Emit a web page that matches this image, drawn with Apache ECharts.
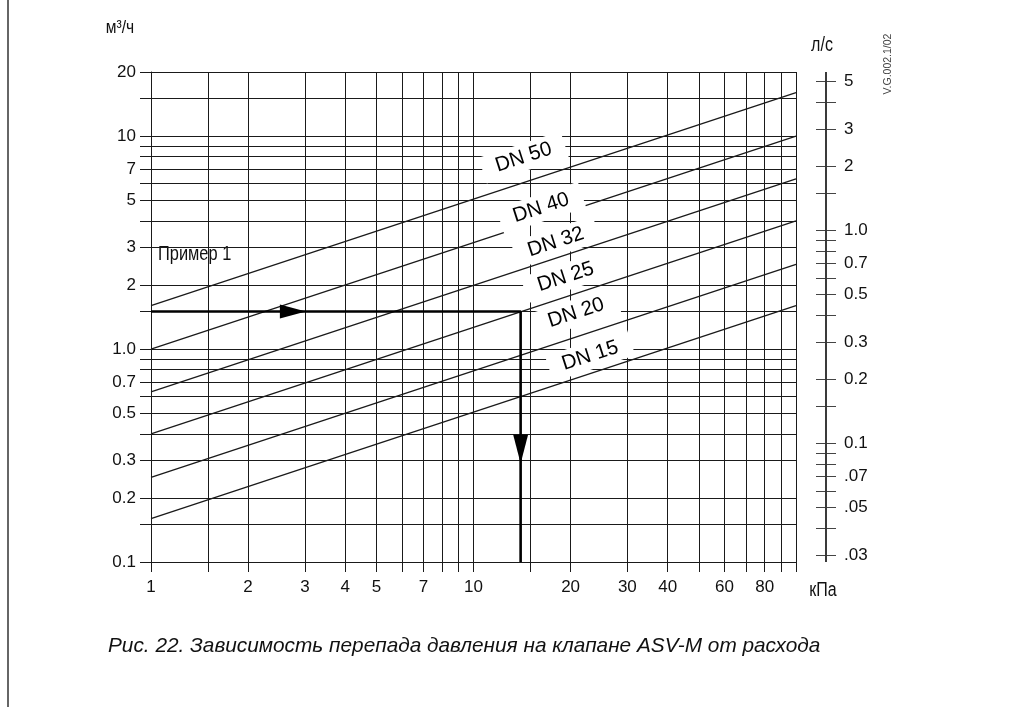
<!DOCTYPE html>
<html><head><meta charset="utf-8">
<script src="https://cdn.jsdelivr.net/npm/echarts@6.0.0/dist/echarts.min.js"></script>
<style>html,body{margin:0;padding:0;background:#fff}#c{width:1027px;height:707px}</style>
</head><body><div id="c"></div>
<script>
// Axis ticks and labels
const pressureTicks = [1,1.5,2,3,4,5,6,7,8,9,10,15,20,30,40,50,60,70,80,90,100];
const pressureLabels = [1,2,3,4,5,7,10,20,30,40,60,80];
const flowTicks = [0.1,0.15,0.2,0.3,0.4,0.5,0.6,0.7,0.8,0.9,1,1.5,2,3,4,5,6,7,8,9,10,15,20];
const flowLabels = [0.1,0.2,0.3,0.5,0.7,1,2,3,5,7,10,20];
const lsTicks = [0.03,0.04,0.05,0.06,0.07,0.08,0.09,0.1,0.15,0.2,0.3,0.4,0.5,0.6,0.7,0.8,0.9,1,1.5,2,3,4,5];
const lsLabels = [0.03,0.05,0.07,0.1,0.2,0.3,0.5,0.7,1,2,3,5];
// Valve curves (m3/h at 1 kPa and at 100 kPa)
const valveNames = ['DN 15','DN 20','DN 25','DN 32','DN 40','DN 50'];
const flowAt1kPa = [0.16,0.25,0.4,0.63,1.0,1.6];
const flowAt100kPa = [1.6,2.5,4.0,6.3,10,16];
const labelPressure = [23,20.8,19.3,18,16.2,14.3];
const labelFlow = [0.93,1.48,2.18,3.18,4.6,7.95];
// Example 1
const examplePath = [[1,1.5],[14,1.5],[14,0.1]];
const exampleArrowRight = [3,1.5];
const exampleArrowDown = [14,0.29];
// l/s scale: range and spine position on its helper axis
const flowMin = 0.1, flowMax = 20, m3hPerLs = 3.6;
const lsSpine = [0];

const INK = '#1a1a1a';
const SANS = '"Liberation Sans",Arial,sans-serif';

function fmtFlow(v){ v = Number(v.toPrecision(6)); return v === 1 ? '1.0' : String(v); }
function fmtLs(v){ v = Number(v.toPrecision(6)); if (v === 1) return '1.0'; if (v < 0.1) return String(v).replace('0.', '.'); return String(v); }

const chart = echarts.init(document.getElementById('c'), null, {renderer:'canvas'});
const lsMin = flowMin / m3hPerLs, lsMax = flowMax / m3hPerLs;

const series = [];
valveNames.forEach((n, i) => {
  series.push({
    type: 'line', name: n, xAxisIndex: 0, yAxisIndex: 0,
    data: [[1, flowAt1kPa[i]], [100, flowAt100kPa[i]]],
    symbol: 'none', lineStyle: {color: INK, width: 1.3}, silent: true, z: 3
  });
});
series.push({
  type: 'line', name: 'example', data: examplePath, symbol: 'none',
  lineStyle: {color: '#000', width: 2.6}, silent: true, z: 4
});
series.push({
  type: 'scatter', name: 'arrows', z: 5, silent: true,
  data: [
    {value: exampleArrowRight, symbol: 'triangle', symbolSize: [14, 26], symbolRotate: -90, symbolOffset: [-12, 0]},
    {value: exampleArrowDown, symbol: 'triangle', symbolSize: [15, 29], symbolRotate: 180, symbolOffset: [0, -14.5]}
  ],
  itemStyle: {color: '#000', opacity: 1}
});
series.push({
  type: 'scatter', name: 'labels', z: 6, silent: true,
  data: valveNames.map((n, i) => ({value: [labelPressure[i], labelFlow[i]], name: n})),
  symbolSize: 1, itemStyle: {color: 'transparent', opacity: 1},
  label: {
    show: true, position: 'inside', formatter: p => p.name, rotate: 18,
    fontFamily: SANS, fontSize: 20.5, color: '#000', opacity: 1,
    backgroundColor: '#fff', padding: [6, 14, 0, 14]
  }
});
// spine of the l/s scale
series.push({
  type: 'line', name: 'lsSpine', xAxisIndex: 1, yAxisIndex: 1,
  data: [[lsSpine[0], lsMin], [lsSpine[0], lsMax]], symbol: 'none', clip: false,
  lineStyle: {color: '#333', width: 1.6}, silent: true, z: 3
});

const tickStyle = {color: INK, width: 1};
const lsTickStyle = {color: '#444', width: 1};
chart.setOption({
  animation: false,
  backgroundColor: '#fff',
  grid: [
    {left: 151, right: 231, top: 72, bottom: 145, outerBoundsMode: 'none', containLabel: false},
    {left: 816, width: 20, top: 72, bottom: 145, outerBoundsMode: 'none', containLabel: false}
  ],
  xAxis: [{
    type: 'log', logBase: 10, min: 1, max: 100,
    axisLine: {show: true, onZero: false, lineStyle: {color: INK, width: 1}},
    axisTick: {show: true, length: 10, customValues: pressureTicks, lineStyle: tickStyle},
    axisLabel: {show: true, customValues: pressureLabels, margin: 17, fontFamily: SANS, fontSize: 17, color: '#111',
      formatter: v => String(Number(v.toPrecision(6)))},
    splitLine: {show: true, lineStyle: {color: INK, width: 1}},
    minorTick: {show: false}, minorSplitLine: {show: false}
  }, {
    gridIndex: 1, type: 'value', min: -1, max: 1,
    axisLine: {show: false}, axisLabel: {show: false},
    axisTick: {show: false, customValues: lsSpine},
    splitLine: {show: true, lineStyle: {color: '#333', width: 1.6}}
  }],
  yAxis: [{
    type: 'log', logBase: 10, min: flowMin, max: flowMax, position: 'left',
    axisLine: {show: true, onZero: false, lineStyle: {color: INK, width: 1}},
    axisTick: {show: true, length: 11, customValues: flowTicks, lineStyle: tickStyle},
    axisLabel: {show: true, customValues: flowLabels, margin: 15, fontFamily: SANS, fontSize: 17, color: '#111', formatter: fmtFlow},
    splitLine: {show: true, lineStyle: {color: INK, width: 1}}
  }, {
    gridIndex: 1, type: 'log', logBase: 10, min: lsMin, max: lsMax, position: 'left', offset: -10,
    axisLine: {show: false},
    axisTick: {show: true, inside: true, length: 10, customValues: lsTicks, lineStyle: lsTickStyle},
    axisLabel: {show: false}, splitLine: {show: false}
  }, {
    gridIndex: 1, type: 'log', logBase: 10, min: lsMin, max: lsMax, position: 'left', offset: -10,
    axisLine: {show: false},
    axisTick: {show: true, inside: false, length: 10, customValues: lsTicks, lineStyle: lsTickStyle},
    axisLabel: {show: false}, splitLine: {show: false}
  }, {
    gridIndex: 1, type: 'log', logBase: 10, min: lsMin, max: lsMax, position: 'right', offset: -10,
    axisLine: {show: false}, axisTick: {show: false},
    axisLabel: {show: true, customValues: lsLabels, margin: 18, fontFamily: SANS, fontSize: 17, color: '#111', formatter: fmtLs},
    splitLine: {show: false}
  }],
  series: series,
  graphic: [
    {type: 'line', shape: {x1: 8, y1: 0, x2: 8, y2: 707}, style: {stroke: '#333', lineWidth: 1.5}, silent: true},
    {type: 'text', x: 120, y: 28, scaleX: 0.82, style: {text: 'м³/ч', font: '19px ' + SANS, fill: '#111', align: 'center', verticalAlign: 'middle'}},
    {type: 'text', x: 822, y: 45, scaleX: 0.8, style: {text: 'л/с', font: '20px ' + SANS, fill: '#111', align: 'center', verticalAlign: 'middle'}},
    {type: 'text', x: 823, y: 590, scaleX: 0.8, style: {text: 'кПа', font: '20px ' + SANS, fill: '#111', align: 'center', verticalAlign: 'middle'}},
    {type: 'text', x: 888, y: 64, rotation: Math.PI/2, style: {text: 'V.G.002.1/02', font: '10.5px ' + SANS, fill: '#444', align: 'center', verticalAlign: 'middle'}},
    {type: 'text', x: 158, y: 254, scaleX: 0.8, style: {text: 'Пример 1', font: '20.5px ' + SANS, fill: '#111', align: 'left', verticalAlign: 'middle'}},
    {type: 'text', x: 108, y: 646, style: {text: 'Рис. 22. Зависимость перепада давления на клапане ASV-M от расхода', font: 'italic 20.8px ' + SANS, fill: '#111', align: 'left', verticalAlign: 'middle'}}
  ]
});
</script></body></html>
